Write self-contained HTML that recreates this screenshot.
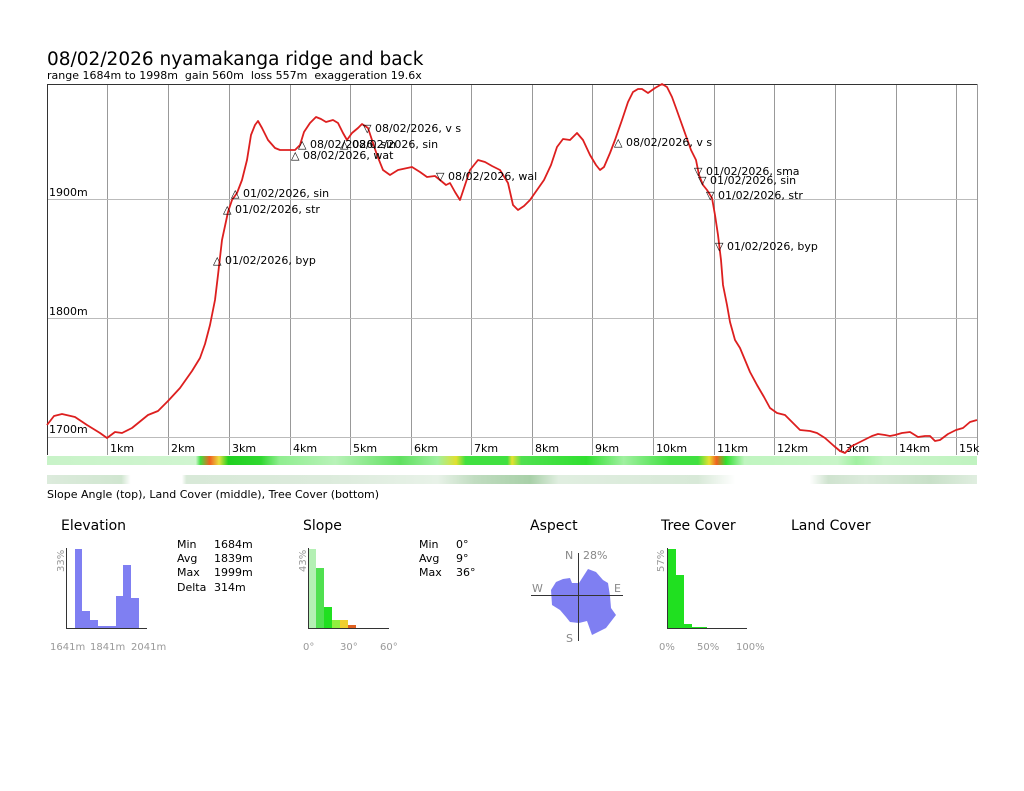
<!DOCTYPE html>
<html><head><meta charset="utf-8"><style>
html,body{margin:0;padding:0;background:#fff;}
svg{display:block;font-family:"DejaVu Sans","Liberation Sans",sans-serif;}
</style></head><body>
<svg width="1024" height="791" viewBox="0 0 1024 791" xmlns="http://www.w3.org/2000/svg">
<defs>
<linearGradient id="sl" x1="47" x2="977" gradientUnits="userSpaceOnUse">
<stop offset="0" stop-color="#c8f3c8"/>
<stop offset="0.16" stop-color="#d0f5d0"/>
<stop offset="0.165" stop-color="#40e040"/>
<stop offset="0.175" stop-color="#f06020"/>
<stop offset="0.185" stop-color="#e8e040"/>
<stop offset="0.195" stop-color="#20d020"/>
<stop offset="0.23" stop-color="#30d830"/>
<stop offset="0.25" stop-color="#90ee90"/>
<stop offset="0.31" stop-color="#b8f2b8"/>
<stop offset="0.38" stop-color="#60e060"/>
<stop offset="0.42" stop-color="#a0f0a0"/>
<stop offset="0.44" stop-color="#e0e030"/>
<stop offset="0.45" stop-color="#40e040"/>
<stop offset="0.495" stop-color="#40e040"/>
<stop offset="0.5" stop-color="#e8e030"/>
<stop offset="0.51" stop-color="#50e050"/>
<stop offset="0.58" stop-color="#30e030"/>
<stop offset="0.62" stop-color="#a0f0a0"/>
<stop offset="0.67" stop-color="#40e040"/>
<stop offset="0.70" stop-color="#40e040"/>
<stop offset="0.712" stop-color="#e8e030"/>
<stop offset="0.72" stop-color="#f06020"/>
<stop offset="0.73" stop-color="#30e030"/>
<stop offset="0.75" stop-color="#c0f5c0"/>
<stop offset="0.85" stop-color="#c8f5c8"/>
<stop offset="0.87" stop-color="#a0f0a0"/>
<stop offset="0.9" stop-color="#c8f5c8"/>
<stop offset="1" stop-color="#c0f3c0"/>
</linearGradient>
<linearGradient id="tr" x1="47" x2="977" gradientUnits="userSpaceOnUse">
<stop offset="0" stop-color="#dcebdc"/>
<stop offset="0.08" stop-color="#d0e6d0"/>
<stop offset="0.09" stop-color="#ffffff"/>
<stop offset="0.145" stop-color="#ffffff"/>
<stop offset="0.15" stop-color="#d8e9d8"/>
<stop offset="0.3" stop-color="#dcebdc"/>
<stop offset="0.42" stop-color="#e8f2e8"/>
<stop offset="0.46" stop-color="#c0dcc0"/>
<stop offset="0.52" stop-color="#a8d0a8"/>
<stop offset="0.55" stop-color="#e0eee0"/>
<stop offset="0.7" stop-color="#d8e9d8"/>
<stop offset="0.74" stop-color="#ffffff"/>
<stop offset="0.82" stop-color="#ffffff"/>
<stop offset="0.84" stop-color="#cfe3cf"/>
<stop offset="0.88" stop-color="#dcebdc"/>
<stop offset="0.95" stop-color="#c8e0c8"/>
<stop offset="1" stop-color="#e0eee0"/>
</linearGradient>
</defs>
<text x="47" y="65" font-size="18.5" fill="#000">08/02/2026 nyamakanga ridge and back</text>
<text x="47" y="79" font-size="11" fill="#000" xml:space="preserve">range 1684m to 1998m  gain 560m  loss 557m  exaggeration 19.6x</text>
<g stroke="#999" stroke-width="1">
<line x1="107.5" y1="84" x2="107.5" y2="455"/><line x1="168.5" y1="84" x2="168.5" y2="455"/>
<line x1="229.5" y1="84" x2="229.5" y2="455"/><line x1="290.5" y1="84" x2="290.5" y2="455"/>
<line x1="350.5" y1="84" x2="350.5" y2="455"/><line x1="411.5" y1="84" x2="411.5" y2="455"/>
<line x1="471.5" y1="84" x2="471.5" y2="455"/><line x1="532.5" y1="84" x2="532.5" y2="455"/>
<line x1="592.5" y1="84" x2="592.5" y2="455"/><line x1="653.5" y1="84" x2="653.5" y2="455"/>
<line x1="714.5" y1="84" x2="714.5" y2="455"/><line x1="774.5" y1="84" x2="774.5" y2="455"/>
<line x1="835.5" y1="84" x2="835.5" y2="455"/><line x1="896.5" y1="84" x2="896.5" y2="455"/>
<line x1="956.5" y1="84" x2="956.5" y2="455"/><line x1="977.5" y1="84" x2="977.5" y2="455"/>
</g>
<g stroke="#bbb" stroke-width="1">
<line x1="47" y1="199.5" x2="977" y2="199.5"/><line x1="47" y1="318.5" x2="977" y2="318.5"/><line x1="47" y1="437.5" x2="977" y2="437.5"/>
</g>
<line x1="47" y1="84.5" x2="977" y2="84.5" stroke="#333"/>
<line x1="47.5" y1="84" x2="47.5" y2="455" stroke="#333"/>
<g font-size="11" fill="#000">
<text x="49" y="196">1900m</text><text x="49" y="315">1800m</text><text x="49" y="433">1700m</text>
<text x="110" y="452">1km</text><text x="171" y="452">2km</text><text x="232" y="452">3km</text><text x="293" y="452">4km</text><text x="353" y="452">5km</text><text x="414" y="452">6km</text><text x="474" y="452">7km</text><text x="535" y="452">8km</text><text x="595" y="452">9km</text><text x="656" y="452">10km</text><text x="717" y="452">11km</text><text x="777" y="452">12km</text><text x="838" y="452">13km</text><text x="899" y="452">14km</text><text x="959" y="452">15k</text>
</g>
<polyline fill="none" stroke="#dd1f1f" stroke-width="1.8" stroke-linejoin="round" points="47,425 54,416 62,414 75,417 87,425 100,433 107,438 115,432 122,433 132,428 148,415 158,411 168,401 180,388 192,371 200,358 205,344 210,325 215,300 218,275 222,240 228,212 232,200 237,193 242,180 247,160 251,135 255,125 258,121 262,128 268,140 275,148 280,150 290,150 295,150 300,145 304,132 310,123 316,117 321,119 326,122 333,120 338,123 343,133 347,140 352,133 358,128 362,124 368,128 372,140 377,155 383,170 390,175 398,170 412,167 420,172 427,177 435,176 440,180 446,185 450,183 455,192 460,200 465,185 470,170 478,160 485,162 492,166 500,170 508,183 513,205 518,210 524,206 530,200 537,190 544,180 551,165 557,147 563,139 570,140 577,133 583,140 590,155 596,165 600,170 604,167 610,153 615,140 622,120 628,102 633,92 638,89 642,89 648,93 655,88 662,84 667,87 672,97 676,108 681,122 686,136 691,150 696,160 699,175 703,185 707,190 712,198 715,215 718,235 721,260 723,285 727,305 730,322 735,340 740,348 745,360 750,372 757,385 764,397 770,408 777,413 785,415 793,423 800,430 810,431 817,433 825,438 834,446 840,451 845,453 848,450 852,446 858,443 864,440 872,436 878,434 885,435 890,436 895,435 902,433 910,432 918,437 925,436 930,436 935,441 940,440 948,434 956,430 963,428 970,422 977,420"/>
<g font-size="11" fill="#000">
<text x="213" y="264">△ 01/02/2026, byp</text>
<text x="223" y="213">△ 01/02/2026, str</text>
<text x="231" y="197">△ 01/02/2026, sin</text>
<text x="291" y="159">△ 08/02/2026, wat</text>
<text x="298" y="148">△ 08/02/2026, sin</text>
<text x="340" y="148">△ 08/02/2026, sin</text>
<text x="363" y="132">▽ 08/02/2026, v s</text>
<text x="436" y="180">▽ 08/02/2026, wal</text>
<text x="614" y="146">△ 08/02/2026, v s</text>
<text x="694" y="175">▽ 01/02/2026, sma</text>
<text x="698" y="184">▽ 01/02/2026, sin</text>
<text x="706" y="199">▽ 01/02/2026, str</text>
<text x="715" y="250">▽ 01/02/2026, byp</text>
</g>
<rect x="47" y="456" width="930" height="9" fill="url(#sl)"/>
<rect x="47" y="475" width="930" height="9" fill="url(#tr)"/>
<text x="47" y="498" font-size="11" fill="#000">Slope Angle (top), Land Cover (middle), Tree Cover (bottom)</text>
<g font-size="14" fill="#000">
<text x="61" y="530">Elevation</text><text x="303" y="530">Slope</text><text x="530" y="530">Aspect</text><text x="661" y="530">Tree Cover</text><text x="791" y="530">Land Cover</text>
</g>
<g fill="#7f7ff2">
<rect x="75" y="549" width="7" height="79"/><rect x="82" y="611" width="8" height="17"/><rect x="90" y="620" width="8" height="8"/><rect x="98" y="626" width="18" height="2"/><rect x="116" y="596" width="7" height="32"/><rect x="123" y="565" width="8" height="63"/><rect x="131" y="598" width="8" height="30"/>
</g>
<path d="M66.5 548V628.5H147" fill="none" stroke="#333"/>
<text transform="translate(64,572) rotate(-90)" font-size="10" fill="#999">33%</text>
<g font-size="10" fill="#999"><text x="50" y="650">1641m</text><text x="90" y="650">1841m</text><text x="131" y="650">2041m</text></g>
<g font-size="11" fill="#000">
<text x="177" y="548">Min</text><text x="214" y="548">1684m</text>
<text x="177" y="562">Avg</text><text x="214" y="562">1839m</text>
<text x="177" y="576">Max</text><text x="214" y="576">1999m</text>
<text x="177" y="591">Delta</text><text x="214" y="591">314m</text>
<text x="419" y="548">Min</text><text x="456" y="548">0°</text>
<text x="419" y="562">Avg</text><text x="456" y="562">9°</text>
<text x="419" y="576">Max</text><text x="456" y="576">36°</text>
</g>
<rect x="308" y="549" width="8" height="79" fill="#b4f0b4"/>
<rect x="316" y="568" width="8" height="60" fill="#50e050"/>
<rect x="324" y="607" width="8" height="21" fill="#20e020"/>
<rect x="332" y="620" width="8" height="8" fill="#90f040"/>
<rect x="340" y="620" width="8" height="8" fill="#f0d030"/>
<rect x="348" y="625" width="8" height="3" fill="#e06020"/>
<path d="M308.5 548V628.5H389" fill="none" stroke="#333"/>
<text transform="translate(306,572) rotate(-90)" font-size="10" fill="#999">43%</text>
<g font-size="10" fill="#999"><text x="303" y="650">0°</text><text x="340" y="650">30°</text><text x="380" y="650">60°</text></g>
<polygon fill="#7f7ff2" points="579,583 588,569 596,572 603,580 608,583 610,596 611,608 616,615 606,628 592,635 587,621 579,623 570,622 566,617 560,610 552,605 551,590 556,582 563,579 570,578 572,583"/>
<line x1="531" y1="595.5" x2="623" y2="595.5" stroke="#333"/>
<line x1="578.5" y1="553" x2="578.5" y2="641" stroke="#333"/>
<g font-size="11" fill="#888"><text x="565" y="559">N</text><text x="583" y="559">28%</text><text x="532" y="592">W</text><text x="614" y="592">E</text><text x="566" y="642">S</text></g>
<rect x="667" y="549" width="9" height="79" fill="#20e020"/>
<rect x="676" y="575" width="8" height="53" fill="#20e020"/>
<rect x="684" y="624" width="8" height="4" fill="#20e020"/>
<rect x="692" y="627" width="15" height="1" fill="#20e020"/>
<path d="M667.5 548V628.5H747" fill="none" stroke="#333"/>
<text transform="translate(664,572) rotate(-90)" font-size="10" fill="#999">57%</text>
<g font-size="10" fill="#999"><text x="659" y="650">0%</text><text x="697" y="650">50%</text><text x="736" y="650">100%</text></g>
</svg>
</body></html>
